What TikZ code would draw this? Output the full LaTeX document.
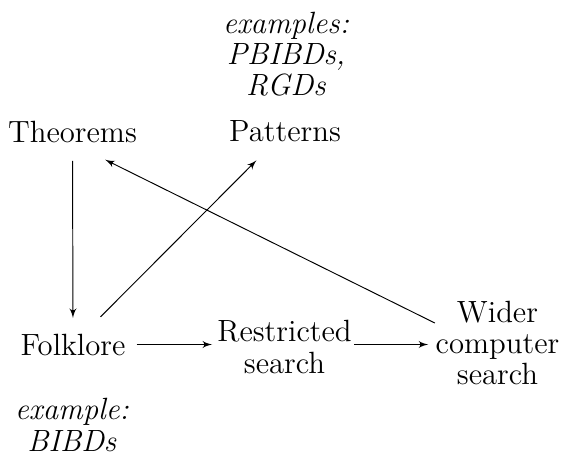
\documentclass[tikz,border=0pt]{standalone}
\usepackage{tikz}
\usetikzlibrary{arrows}

\begin{document}
\begin{tikzpicture}[x=0.41667pt, y=-0.41667pt, >=latex',
        every node/.style={inner sep=0pt, font=\fontsize{12.8}{13}\selectfont},
        word/.style={anchor=base},
        stack/.style={align=center}]
        \useasboundingbox (0,0) rectangle (564,456);

        % top row
        \node[stack] at (286,54) (ex_top) {\textit{examples:}\\\textit{PBIBDs,}\\\textit{RGDs}};
        \node[word] at (72.5,143) (theorems) {Theorems};
        \node[word] at (285,142) (patterns) {Patterns};

        % bottom row
        \node[word] at (73,355) (folklore) {Folklore};
        \node[stack] at (284.5,347) (restricted) {Restricted\\search};
        \node[stack] at (497.5,343) (wider) {Wider\\computer\\search};
        \node[stack] at (72,425) (ex_bottom) {\textit{example:}\\\textit{BIBDs}};

        \draw[->, shorten <=7.1pt, shorten >=6.3pt] (theorems) -- (folklore);
        \draw[->, shorten <=9.6pt, shorten >=10.3pt] (folklore) -- (patterns);
        \draw[->, shorten <=29.1pt, shorten >=15.2pt] ([yshift=-4.6pt]wider.center) -- ([yshift=-4.6pt]theorems.center);
        \draw[->, shorten <=4.5pt, shorten >=2pt] (folklore.east) -- (folklore.east -| restricted.west);
        \draw[->, shorten <=0.8pt, shorten >=2.9pt] (restricted.east |- folklore.east) -- (folklore.east -| wider.west);
    \end{tikzpicture}
\end{document}
